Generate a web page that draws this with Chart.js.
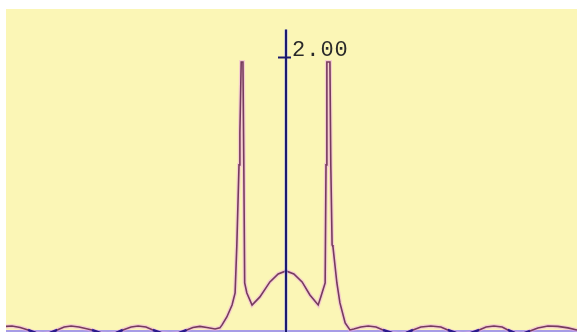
<!DOCTYPE html>
<html>
<head>
<meta charset="utf-8">
<script src="https://cdn.jsdelivr.net/npm/chart.js@4/dist/chart.umd.min.js"></script>
<style>
  html, body { margin: 0; padding: 0; background: #ffffff; }
  #wrap { width: 577px; height: 332px; }
</style>
</head>
<body>
<div id="wrap"><canvas id="c" width="577" height="332"></canvas></div>
<script>
// ---- data (x in arbitrary frequency units, y in amplitude) ----
const xValues = [
  -6.44, -6.30, -6.11, -5.93, -5.75, -5.59, -5.43, -5.26, -5.10, -4.94,
  -4.76, -4.46, -4.23, -4.09, -3.91, -3.75, -3.56, -3.40, -3.22, -3.06,
  -2.87, -2.67, -2.46, -2.28, -2.14, -1.98, -1.82, -1.63, -1.52, -1.47,
  -1.36, -1.24, -1.17, -1.13, -1.08, -1.06, -1.03, -0.99, -0.97, -0.95,
  -0.90, -0.78, -0.60, -0.37, -0.18, 0.00,
  0.18, 0.37, 0.55, 0.74, 0.80, 0.90, 0.92, 0.94, 1.01, 1.03,
  1.06, 1.08, 1.17, 1.24, 1.36, 1.47, 1.56, 1.72, 1.89, 2.07,
  2.23, 2.44, 2.60, 2.76, 2.92, 3.10, 3.33, 3.56, 3.72, 3.91,
  4.07, 4.25, 4.44, 4.60, 4.78, 4.97, 5.10, 5.26, 5.43, 5.61,
  5.79, 6.02, 6.25, 6.48, 6.69
];
const yValues = [
  0.026, 0.029, 0.018, 0.000, -0.022, -0.029, -0.022, 0.000, 0.022, 0.029,
  0.022, 0.000, -0.026, -0.029, -0.022, 0.000, 0.022, 0.029, 0.022, 0.000,
  -0.022, -0.029, -0.022, 0.000, 0.018, 0.026, 0.018, 0.007, 0.015, 0.037,
  0.095, 0.183, 0.271, 0.623, 1.209, 1.443, 1.963, 1.963, 1.209, 0.344,
  0.271, 0.183, 0.242, 0.352, 0.410, 0.432,
  0.410, 0.352, 0.256, 0.183, 0.242, 0.344, 1.209, 1.963, 1.963, 1.209,
  0.623, 0.608, 0.344, 0.198, 0.051, 0.000, 0.007, 0.022, 0.029, 0.022,
  0.000, -0.022, -0.029, -0.022, 0.000, 0.022, 0.029, 0.022, 0.000, -0.022,
  -0.029, -0.022, 0.000, 0.022, 0.029, 0.022, 0.000, -0.022, -0.029, -0.007,
  0.015, 0.029, 0.026, 0.015, 0.000
];
const yTickValues = [2.0];
const yAxisTop = 2.2;

const points = xValues.map((x, i) => ({ x: x, y: yValues[i] }));

const backgroundPlugin = {
  id: 'bg',
  beforeDraw(chart) {
    const { ctx, chartArea } = chart;
    ctx.save();
    ctx.fillStyle = '#fbf6b6';
    ctx.fillRect(chartArea.left, chartArea.top, chartArea.right - chartArea.left, chartArea.bottom - chartArea.top);
    const ys = chart.scales.y;
    const y0 = ys.getPixelForValue(0);
    ctx.strokeStyle = '#a69ce6';
    ctx.lineWidth = 2;
    ctx.beginPath();
    ctx.moveTo(chartArea.left, y0 + 1);
    ctx.lineTo(chartArea.right, y0 + 1);
    ctx.stroke();
    ctx.restore();
  }
};

const axisPlugin = {
  id: 'centerAxis',
  afterDatasetsDraw(chart) {
    const { ctx, chartArea } = chart;
    const xs = chart.scales.x, ys = chart.scales.y;
    const ax = Math.round(xs.getPixelForValue(0));
    ctx.save();
    ctx.strokeStyle = 'rgba(150,160,235,0.45)';
    ctx.lineWidth = 4;
    ctx.beginPath();
    ctx.moveTo(ax, ys.getPixelForValue(yAxisTop));
    ctx.lineTo(ax, chartArea.bottom);
    ctx.stroke();
    ctx.strokeStyle = '#1c1a6e';
    ctx.lineWidth = 2;
    ctx.beginPath();
    ctx.moveTo(ax, ys.getPixelForValue(yAxisTop));
    ctx.lineTo(ax, chartArea.bottom);
    ctx.stroke();
    yTickValues.forEach(v => {
      const py = Math.round(ys.getPixelForValue(v)) + 0.5;
      ctx.lineWidth = 2;
      ctx.beginPath();
      ctx.moveTo(ax - 8, py);
      ctx.lineTo(ax + 5, py);
      ctx.stroke();
      ctx.fillStyle = '#2a2a2a';
      ctx.font = '22px "Liberation Mono", "DejaVu Sans Mono", monospace';
      ctx.textBaseline = 'alphabetic';
      ctx.textAlign = 'left';
      if ('letterSpacing' in ctx) ctx.letterSpacing = '1px';
      ctx.fillText(v.toFixed(2), ax + 6, py - 1.5);
    });
    ctx.restore();
  }
};

new Chart(document.getElementById('c'), {
  type: 'line',
  data: {
    datasets: [
      {
        data: points,
        borderColor: '#763a5e',
        borderWidth: 1.6,
        pointRadius: 0,
        tension: 0,
        order: 1,
        segment: {
          borderColor: ctx => (Math.max(ctx.p0.parsed.y, ctx.p1.parsed.y) <= 0.001 ? '#2a1a8c' : undefined),
          borderWidth: ctx => (Math.max(ctx.p0.parsed.y, ctx.p1.parsed.y) <= 0.001 ? 2.5 : undefined)
        }
      },
      {
        data: points,
        borderColor: 'rgba(240,165,232,0.5)',
        borderWidth: 4,
        pointRadius: 0,
        tension: 0,
        order: 2
      }
    ]
  },
  options: {
    responsive: false,
    animation: false,
    events: [],
    layout: { padding: { left: 6, top: 9, right: 0, bottom: 0 } },
    plugins: { legend: { display: false }, tooltip: { enabled: false } },
    scales: {
      x: { type: 'linear', min: -6.437, max: 6.69, display: false },
      y: { type: 'linear', min: -0.015, max: 2.351, display: false }
    }
  },
  plugins: [backgroundPlugin, axisPlugin]
});
</script>
</body>
</html>
